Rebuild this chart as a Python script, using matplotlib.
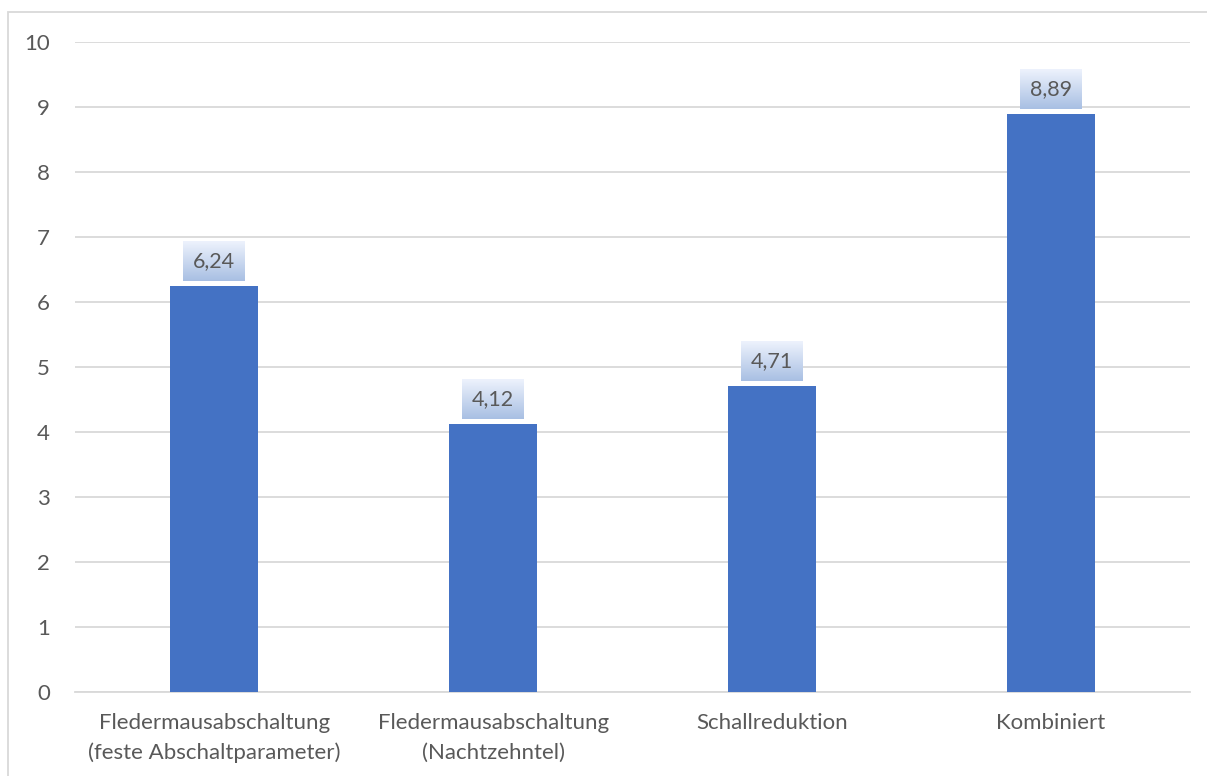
import numpy as np
import matplotlib.pyplot as plt
from matplotlib.patches import Rectangle

# Werte je Maßnahme
categories = ["Fledermausabschaltung\n(feste Abschaltparameter)",
              "Fledermausabschaltung\n(Nachtzehntel)",
              "Schallreduktion",
              "Kombiniert"]
values = [6.24, 4.12, 4.71, 8.89]
yticks = list(range(0, 11))

plt.rcParams['font.family'] = ['Lato', 'DejaVu Sans']
text_color = '#595959'
grid_color = '#d9d9d9'
bar_color = '#4472c4'

fig = plt.figure(figsize=(12.07, 7.76), dpi=100)
ax = fig.add_axes([75 / 1207, 1 - 692 / 776, (1190 - 75) / 1207, (692 - 42) / 776])

x = np.arange(len(categories))
ax.bar(x, values, width=0.316, color=bar_color, zorder=3)

# Beschriftungsfelder mit Farbverlauf über den Balken
grad = np.linspace(0, 1, 64).reshape(-1, 1)
top_rgb = np.array([0.93, 0.95, 0.99])
bot_rgb = np.array([0.66, 0.75, 0.89])
img = top_rgb + (bot_rgb - top_rgb) * grad[:, :, None]
for xi, v in zip(x, values):
    y0 = v + 0.08
    y1 = y0 + 0.615
    ax.imshow(img, extent=(xi - 0.111, xi + 0.111, y0, y1), aspect='auto',
              zorder=4, interpolation='bilinear')
    ax.text(xi, (y0 + y1) / 2, f"{v:.2f}".replace('.', ','), ha='center', va='center',
            fontsize=15.5, color=text_color, zorder=5)

ax.set_xlim(-0.5, len(categories) - 0.5)
ax.set_ylim(0, 10)
ax.set_yticks(yticks)
ax.set_xticks(x)
ax.set_xticklabels(categories, fontsize=16, color=text_color, linespacing=1.6)
ax.tick_params(axis='y', labelsize=16, labelcolor=text_color, length=0, pad=18)
ax.tick_params(axis='x', length=0, pad=15)
ax.yaxis.grid(True, color=grid_color, linewidth=1.3, zorder=0)
for s in ['top', 'right', 'left']:
    ax.spines[s].set_visible(False)
ax.spines['bottom'].set_color(grid_color)
ax.spines['bottom'].set_linewidth(1.3)

# Rahmen um das Diagramm
fig.patches.append(Rectangle((8 / 1207, -0.01), 1.0, 1 - 12 / 776 + 0.01, transform=fig.transFigure,
                             fill=False, edgecolor=grid_color, linewidth=1.3))

fig.savefig('out.png', dpi=100)
